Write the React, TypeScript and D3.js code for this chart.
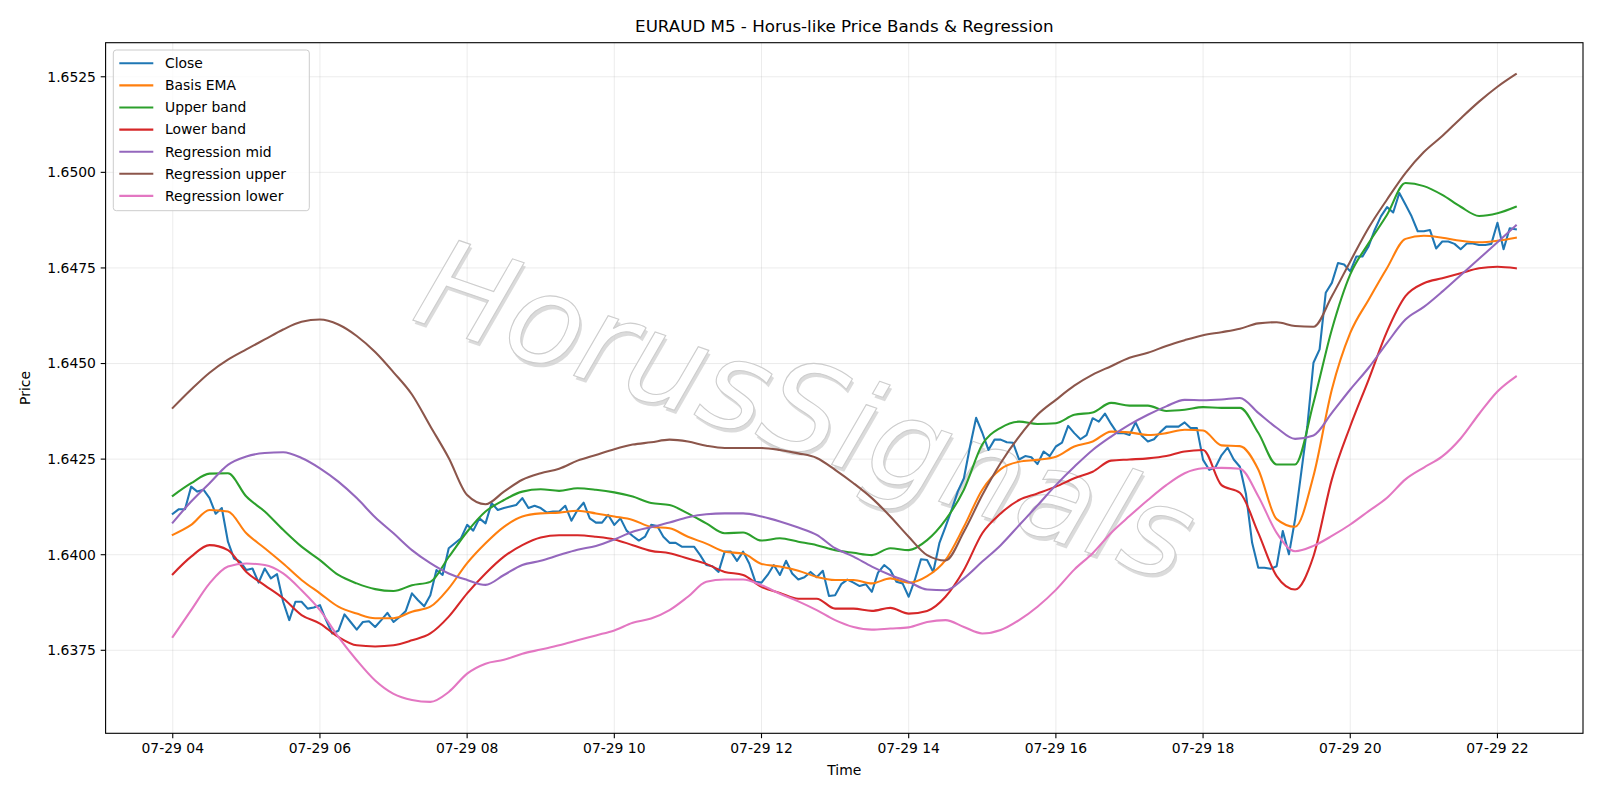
import React from "react";
import * as d3 from "d3";

// ---------- DATA ----------
const startTime = new Date(2025, 6, 29, 4, 0, 0);
const stepMinutes = 5;

const closeValues = [
  1.64107, 1.64119, 1.64119, 1.64178, 1.64165, 1.6417, 1.64148, 1.64107, 1.64122, 1.64034,
  1.6399, 1.63982, 1.6396, 1.63964, 1.63927, 1.63964, 1.63938, 1.63949, 1.63877, 1.63829,
  1.63877, 1.63877, 1.63859, 1.63862, 1.63868, 1.63829, 1.63794, 1.63801, 1.63844, 1.63824,
  1.63804, 1.63824, 1.63826, 1.63811, 1.63829, 1.63848, 1.63824, 1.63837, 1.63853, 1.63899,
  1.63881, 1.63865, 1.63894, 1.6396, 1.63947, 1.64017, 1.6403, 1.64043, 1.64078, 1.64063,
  1.64095, 1.64082, 1.64135, 1.64117, 1.64122, 1.64126, 1.6413, 1.64148, 1.64122, 1.64128,
  1.64122, 1.6411, 1.64113, 1.64113, 1.64128, 1.64089, 1.64117, 1.64136, 1.64095, 1.64084,
  1.64084, 1.64104, 1.64078, 1.64095, 1.64063, 1.64049, 1.64037, 1.64047, 1.64078, 1.64075,
  1.64047, 1.64031, 1.64031, 1.64021, 1.64021, 1.64021, 1.63999, 1.63973, 1.6397, 1.63955,
  1.64008, 1.64008, 1.63984, 1.64008, 1.63977, 1.63929, 1.63927, 1.63947, 1.63973, 1.63947,
  1.63984, 1.63951, 1.63935, 1.63941, 1.63955, 1.63941, 1.63958, 1.63892, 1.63894, 1.63923,
  1.63935, 1.63927, 1.63918, 1.63923, 1.63903, 1.63953, 1.63973, 1.6396, 1.63929, 1.63925,
  1.6389, 1.63934, 1.63988, 1.63986, 1.63955, 1.6403, 1.64073, 1.64117, 1.64165, 1.642,
  1.64283, 1.64358, 1.64319, 1.64274, 1.64301, 1.64301, 1.64294, 1.64293, 1.64249, 1.64258,
  1.64255, 1.64237, 1.6427, 1.64258, 1.64283, 1.64293, 1.64337, 1.64318, 1.64302, 1.64313,
  1.64357, 1.64348, 1.64369, 1.64342, 1.64318, 1.64318, 1.64313, 1.64346, 1.64311, 1.64296,
  1.64302, 1.6432, 1.64335, 1.64335, 1.64335, 1.64346, 1.64331, 1.64331, 1.64248, 1.64222,
  1.64228, 1.6426, 1.6428, 1.64249, 1.6423, 1.64158, 1.64031, 1.63966, 1.63966, 1.63963,
  1.6397, 1.64062, 1.64001, 1.64092, 1.64214, 1.64336, 1.64502, 1.64537, 1.64685, 1.64711,
  1.64763, 1.64759, 1.64741, 1.6478, 1.6478, 1.64807, 1.6485, 1.64885, 1.64909, 1.64895,
  1.64946, 1.64916, 1.64885, 1.64846, 1.64846, 1.64849, 1.64801, 1.64819, 1.64819, 1.64813,
  1.64799, 1.64814, 1.64814, 1.6481, 1.6481, 1.64813, 1.64868, 1.64799, 1.64854, 1.64851,
];

// Smooth series read every 15 minutes (bar index 0,3,...,216) plus the last bar (219)
const smoothIndex = [
  0, 3, 6, 9, 12, 15, 18, 21, 24, 27, 30, 33, 36, 39, 42, 45, 48, 51, 54, 57, 60, 63, 66, 69,
  72, 75, 78, 81, 84, 87, 90, 93, 96, 99, 102, 105, 108, 111, 114, 117, 120, 123, 126, 129,
  132, 135, 138, 141, 144, 147, 150, 153, 156, 159, 162, 165, 168, 171, 174, 177, 180, 183,
  186, 189, 192, 195, 198, 201, 204, 207, 210, 213, 216, 219,
];

const basisEma = [
  1.64052, 1.64078, 1.64117, 1.64113, 1.64056, 1.64017, 1.63977, 1.63934, 1.63899, 1.63864,
  1.63846, 1.63834, 1.63834, 1.63851, 1.63864, 1.63912, 1.63978, 1.6403, 1.64073, 1.641,
  1.64108, 1.6411, 1.64115, 1.64108, 1.641, 1.64091, 1.64073, 1.64069, 1.64047, 1.64029,
  1.64008, 1.64003, 1.63976, 1.63969, 1.63958, 1.63942, 1.63934, 1.63934, 1.63925, 1.63938,
  1.63927, 1.63944, 1.63986, 1.64073, 1.6417, 1.64224, 1.64243, 1.64248, 1.64256, 1.64283,
  1.64296, 1.64322, 1.6432, 1.64313, 1.64318, 1.64327, 1.64325, 1.64286, 1.64284, 1.64223,
  1.64093, 1.64073, 1.64206, 1.64432, 1.6458, 1.64667, 1.6475, 1.64826, 1.64834, 1.64829,
  1.64821, 1.64817, 1.64821, 1.64829,
];

const upperBand = [
  1.64154, 1.64187, 1.64212, 1.64213, 1.64152, 1.64113, 1.64065, 1.64021, 1.63986, 1.63947,
  1.63925, 1.6391, 1.63905, 1.6392, 1.63929, 1.63994, 1.6406, 1.64113, 1.64143, 1.64165,
  1.64171, 1.64167, 1.64174, 1.6417, 1.64163, 1.64152, 1.64135, 1.6413, 1.64108, 1.64082,
  1.64056, 1.64058, 1.64037, 1.64043, 1.64034, 1.64025, 1.64012, 1.64005, 1.63999, 1.64017,
  1.64012, 1.64038, 1.64091, 1.6417, 1.64288, 1.64332, 1.64348, 1.64342, 1.64344, 1.64366,
  1.64372, 1.64397, 1.6439, 1.6439, 1.64376, 1.64379, 1.64386, 1.64384, 1.64384, 1.64319,
  1.64236, 1.64236, 1.64397, 1.64589, 1.64733, 1.64815, 1.64889, 1.64972, 1.64964, 1.64941,
  1.6491, 1.64886, 1.64893, 1.6491,
];

const lowerBand = [
  1.63949, 1.63995, 1.64025, 1.64012, 1.63955, 1.6392, 1.63886, 1.63842, 1.6382, 1.63785,
  1.63763, 1.6376, 1.63763, 1.63776, 1.63794, 1.63838, 1.63899, 1.63951, 1.63995, 1.64025,
  1.64045, 1.64051, 1.64051, 1.64047, 1.6404, 1.64025, 1.6401, 1.64004, 1.6399, 1.63976,
  1.63955, 1.63947, 1.63916, 1.639, 1.63885, 1.63885, 1.63859, 1.63859, 1.63853, 1.63861,
  1.63846, 1.63853, 1.6389, 1.6396, 1.64056, 1.64108, 1.64143, 1.6416, 1.64178, 1.642,
  1.64217, 1.64246, 1.64249, 1.64252, 1.64258, 1.6427, 1.64274, 1.64182, 1.64162, 1.64057,
  1.63944, 1.63909, 1.63996, 1.64197, 1.64336, 1.64458, 1.64584, 1.64676, 1.6471, 1.64723,
  1.64736, 1.64749, 1.64753, 1.64749,
];

const regressionMid = [
  1.64084, 1.64139, 1.64187, 1.64235, 1.64257, 1.64266, 1.64268, 1.64253, 1.64226, 1.64191,
  1.64148, 1.64098, 1.64056, 1.64012, 1.63978, 1.63951, 1.63934, 1.63921, 1.63947, 1.63973,
  1.63984, 1.63999, 1.64013, 1.64023, 1.6404, 1.6406, 1.64072, 1.64084, 1.64098, 1.64106,
  1.64108, 1.64108, 1.641, 1.64087, 1.64071, 1.64052, 1.64017, 1.63995, 1.63969, 1.63947,
  1.63929, 1.63909, 1.63907, 1.63938, 1.63982, 1.64025, 1.64077, 1.64129, 1.64182, 1.6423,
  1.64274, 1.64309, 1.6434, 1.64366, 1.64388, 1.64405, 1.64404, 1.64406, 1.6441, 1.64371,
  1.64332, 1.64303, 1.64312, 1.64371, 1.64432, 1.64489, 1.64554, 1.64615, 1.64648, 1.64688,
  1.64731, 1.64774, 1.64817, 1.64861,
];

const regressionUpper = [
  1.64384, 1.64432, 1.64476, 1.6451, 1.64537, 1.64563, 1.64589, 1.64609, 1.64615, 1.64602,
  1.64572, 1.6453, 1.64477, 1.64419, 1.64336, 1.64253, 1.64156, 1.64132, 1.64165, 1.64196,
  1.64213, 1.64225, 1.64246, 1.64261, 1.64276, 1.64288, 1.64294, 1.64301, 1.64296, 1.64285,
  1.64279, 1.64279, 1.64279, 1.64274, 1.64265, 1.64253, 1.64222, 1.64187, 1.64148, 1.641,
  1.64047, 1.63999, 1.63985, 1.6406, 1.64156, 1.6424, 1.64309, 1.64366, 1.64405, 1.64442,
  1.64471, 1.64493, 1.64515, 1.64528, 1.64546, 1.64561, 1.64574, 1.64582, 1.64591, 1.64605,
  1.64608, 1.64598, 1.64596, 1.64676, 1.64767, 1.64855, 1.64929, 1.64998, 1.65053, 1.65095,
  1.65141, 1.65185, 1.65224, 1.65257,
];

const regressionLower = [
  1.63785, 1.63855, 1.63925, 1.63969, 1.63977, 1.63973, 1.63951, 1.63907, 1.63855, 1.63785,
  1.63724, 1.63671, 1.63636, 1.6362, 1.63615, 1.63641, 1.63689, 1.63715, 1.63725, 1.63741,
  1.63752, 1.63763, 1.63776, 1.63789, 1.63802, 1.63822, 1.63833, 1.63855, 1.6389, 1.63929,
  1.63935, 1.63935, 1.6392, 1.63898, 1.63878, 1.63855, 1.63829, 1.63811, 1.63804, 1.63807,
  1.6381, 1.63824, 1.63829, 1.63811, 1.63794, 1.63803, 1.63829, 1.63864, 1.63908, 1.63961,
  1.64004, 1.64057, 1.64101, 1.64143, 1.64182, 1.64213, 1.64226, 1.64227, 1.64225, 1.64153,
  1.64057, 1.64009, 1.64023, 1.64049, 1.64079, 1.64114, 1.64149, 1.64197, 1.64228, 1.64257,
  1.64304, 1.64368, 1.64427, 1.64466,
];

const yTickValues = [1.6375, 1.64, 1.6425, 1.645, 1.6475, 1.65, 1.6525];

const seriesNames = [
  "Close",
  "Basis EMA",
  "Upper band",
  "Lower band",
  "Regression mid",
  "Regression upper",
  "Regression lower",
];
const seriesColors = ["#1f77b4", "#ff7f0e", "#2ca02c", "#d62728", "#9467bd", "#8c564b", "#e377c2"];

const titleText = "EURAUD M5 - Horus-like Price Bands & Regression";
const watermarkText = "HorusSignals";

// ---------- LAYOUT ----------
const W = 1600;
const H = 800;
const M = { left: 105.6, right: 1583, top: 42.7, bottom: 733.3 };
const FONT = "'DejaVu Sans', sans-serif";

type Pt = { t: Date; v: number };

function timeAt(i: number): Date {
  return new Date(startTime.getTime() + i * stepMinutes * 60000);
}

export default function App() {
  const closePts: Pt[] = closeValues.map((v, i) => ({ t: timeAt(i), v }));
  const smoothSeries = [basisEma, upperBand, lowerBand, regressionMid, regressionUpper, regressionLower];
  const smoothPts: Pt[][] = smoothSeries.map((arr) => arr.map((v, k) => ({ t: timeAt(smoothIndex[k]), v })));
  const allSeries: Pt[][] = [closePts, ...smoothPts];

  const t0 = closePts[0].t.getTime();
  const t1 = closePts[closePts.length - 1].t.getTime();
  const tPad = (t1 - t0) * 0.05;
  const x = d3.scaleTime().domain([new Date(t0 - tPad), new Date(t1 + tPad)]).range([M.left, M.right]);

  const allVals = allSeries.flat().map((p) => p.v);
  const vMin = d3.min(allVals) as number;
  const vMax = d3.max(allVals) as number;
  const vPad = (vMax - vMin) * 0.05;
  const y = d3.scaleLinear().domain([vMin - vPad, vMax + vPad]).range([M.bottom, M.top]);

  const xTicks = x.ticks(d3.timeHour.every(2) as d3.TimeInterval);
  const fmt = d3.timeFormat("%m-%d %H");

  const lineClose = d3
    .line<Pt>()
    .x((p) => x(p.t))
    .y((p) => y(p.v));
  const lineSmooth = d3
    .line<Pt>()
    .x((p) => x(p.t))
    .y((p) => y(p.v))
    .curve(d3.curveMonotoneX);

  const cx = 806;
  const cy = 410;
  const wmAngle = 19;
  const wmSize = 124;

  const legendX = 113.3;
  const legendY = 50;
  const legendW = 196;
  const legendH = 160.7;
  const rowH = 22.1;

  return (
    <div style={{ position: "fixed", left: 0, top: 0, width: W, height: H }}>
      <svg width={W} height={H} style={{ display: "block", background: "#fff" }} fontFamily={FONT}>
        <rect x={0} y={0} width={W} height={H} fill="#ffffff" />
        <defs>
          <clipPath id="plotClip">
            <rect x={M.left} y={M.top} width={M.right - M.left} height={M.bottom - M.top} />
          </clipPath>
        </defs>

        {/* grid */}
        <g stroke="#b0b0b0" strokeOpacity={0.3} strokeWidth={0.8}>
          {xTicks.map((t, i) => (
            <line key={"gx" + i} x1={x(t)} x2={x(t)} y1={M.top} y2={M.bottom} />
          ))}
          {yTickValues.map((v, i) => (
            <line key={"gy" + i} x1={M.left} x2={M.right} y1={y(v)} y2={y(v)} />
          ))}
        </g>

        {/* watermark */}
        <g clipPath="url(#plotClip)">
          <g transform={`translate(${cx},${cy}) rotate(${wmAngle})`}>
            <text
              x={3}
              y={3}
              textAnchor="middle"
              dominantBaseline="central"
              fontSize={wmSize}
              fontStyle="italic"
              fill="#c8c8c8"
              fillOpacity={0.65}
              fontFamily={FONT}
            >
              {watermarkText}
            </text>
            <text
              x={0}
              y={0}
              textAnchor="middle"
              dominantBaseline="central"
              fontSize={wmSize}
              fontStyle="italic"
              fill="#ffffff"
              stroke="#cdcdcd"
              strokeWidth={1.1}
              fontFamily={FONT}
            >
              {watermarkText}
            </text>
          </g>
        </g>

        {/* series */}
        <g clipPath="url(#plotClip)" fill="none" strokeWidth={2.08} strokeLinejoin="round" strokeLinecap="square">
          {allSeries.map((pts, si) => (
            <path
              key={"s" + si}
              d={(si === 0 ? lineClose(pts) : lineSmooth(pts)) || ""}
              stroke={seriesColors[si]}
            />
          ))}
        </g>

        {/* spines */}
        <rect
          x={M.left}
          y={M.top}
          width={M.right - M.left}
          height={M.bottom - M.top}
          fill="none"
          stroke="#000"
          strokeWidth={1.1}
        />

        {/* x ticks */}
        <g>
          {xTicks.map((t, i) => (
            <g key={"xt" + i} transform={`translate(${x(t)},${M.bottom})`}>
              <line y1={0} y2={4.9} stroke="#000" strokeWidth={1.1} />
              <text y={19.5} textAnchor="middle" fontSize={13.9} fill="#000">
                {fmt(t)}
              </text>
            </g>
          ))}
        </g>

        {/* y ticks */}
        <g>
          {yTickValues.map((v, i) => (
            <g key={"yt" + i} transform={`translate(${M.left},${y(v)})`}>
              <line x1={-4.9} x2={0} stroke="#000" strokeWidth={1.1} />
              <text x={-9.7} dy="0.35em" textAnchor="end" fontSize={13.9} fill="#000">
                {d3.format(".4f")(v)}
              </text>
            </g>
          ))}
        </g>

        {/* axis labels */}
        <text x={(M.left + M.right) / 2} y={775} textAnchor="middle" fontSize={13.9} fill="#000">
          Time
        </text>
        <text
          transform={`translate(30,${(M.top + M.bottom) / 2}) rotate(-90)`}
          textAnchor="middle"
          fontSize={13.9}
          fill="#000"
        >
          Price
        </text>

        {/* title */}
        <text x={(M.left + M.right) / 2} y={32} textAnchor="middle" fontSize={16.7} fill="#000">
          {titleText}
        </text>

        {/* legend */}
        <g>
          <rect
            x={legendX}
            y={legendY}
            width={legendW}
            height={legendH}
            rx={3}
            fill="#ffffff"
            fillOpacity={0.8}
            stroke="#cccccc"
            strokeWidth={1}
          />
          {seriesNames.map((name, i) => (
            <g key={"lg" + i} transform={`translate(${legendX + 6},${legendY + 13.3 + i * rowH})`}>
              <line x1={0} x2={34} stroke={seriesColors[i]} strokeWidth={2.08} />
              <text x={45.7} dy="0.35em" fontSize={13.9} fill="#000">
                {name}
              </text>
            </g>
          ))}
        </g>
      </svg>
    </div>
  );
}
